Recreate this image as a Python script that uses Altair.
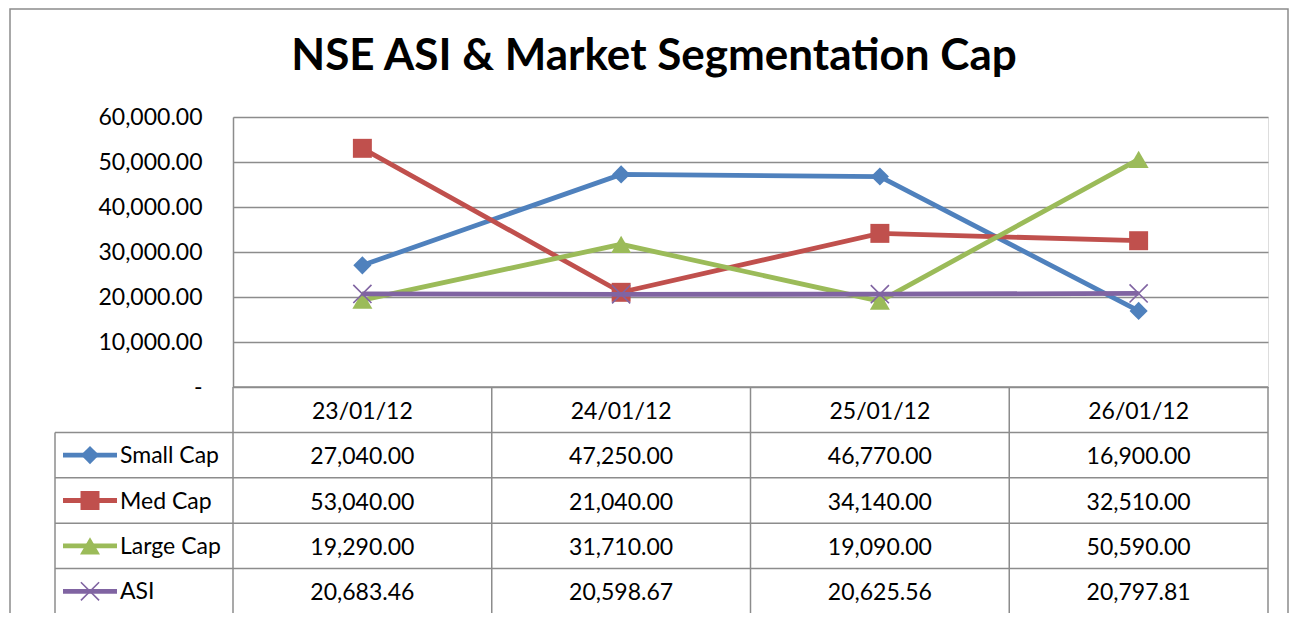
import altair as alt
import pandas as pd

# ---- data ----
dates = ["23/01/12", "24/01/12", "25/01/12", "26/01/12"]
series = ["Small Cap", "Med Cap", "Large Cap", "ASI"]
small_cap = [27040.00, 47250.00, 46770.00, 16900.00]
med_cap = [53040.00, 21040.00, 34140.00, 32510.00]
large_cap = [19290.00, 31710.00, 19090.00, 50590.00]
asi = [20683.46, 20598.67, 20625.56, 20797.81]
y_ticks = [0, 10000, 20000, 30000, 40000, 50000, 60000]
title_text = ["NSE ASI & Market Segmentation Cap"]

colors = ["#4F81BD", "#C0504D", "#9BBB59", "#8064A2"]
X_PATH = "M-1,-1L1,1M-1,1L1,-1"
shapes = ["diamond", "square", "triangle-up", X_PATH]
sizes = [330, 360, 400, 330]

W, H = 1035, 270
FONT = "Lato"
GRID = "#8c8c8c"
FS = 23
LEG_LEFT = -178

values = {"Small Cap": small_cap, "Med Cap": med_cap, "Large Cap": large_cap, "ASI": asi}

rows = []
for i, s in enumerate(series):
    for d, v in zip(dates, values[s]):
        rows.append({"date": d, "series": s, "value": v,
                     "label": f"{v:,.2f}", "pos": i + 1.5})
df = pd.DataFrame(rows)

header_df = pd.DataFrame({"date": dates, "pos": [0.5] * len(dates)})
legend_df = pd.DataFrame({"series": series, "pos": [i + 1.5 for i in range(len(series))]})

x_date = alt.Scale(type="point", domain=dates, padding=0.5)
y_val = alt.Scale(domain=[0, 60000], nice=False, zero=False)
row_scale = alt.Scale(domain=[0, 5], range=[270, 497], nice=False, zero=False)
col_scale = alt.Scale(domain=[0, 4], range=[0, W], nice=False, zero=False)

layers = []

# outer chart border
layers.append(
    alt.Chart(pd.DataFrame({"a": [0]})).mark_rect(
        filled=False, stroke=GRID, strokeWidth=1.5
    ).encode(x=alt.value(-223), x2=alt.value(1055), y=alt.value(-108), y2=alt.value(540))
)

# chart title
layers.append(
    alt.Chart(pd.DataFrame({"t": title_text})).mark_text(
        font=FONT, fontSize=44, fontWeight="bold", color="black",
        align="center", baseline="alphabetic"
    ).encode(x=alt.value(421), y=alt.value(-47), text="t:N")
)

# y axis + gridlines layer (invisible line carrying the axis)
layers.append(
    alt.Chart(df).mark_line(opacity=0).encode(
        x=alt.X("date:N", scale=x_date, axis=None),
        y=alt.Y("value:Q", scale=y_val, axis=alt.Axis(
            values=y_ticks, title=None, ticks=False, labelPadding=31,
            labelFont=FONT, labelFontSize=FS, labelColor="black",
            labelExpr="datum.value == 0 ? '-\u2007\u2007' : format(datum.value, ',.2f')",
            domainColor=GRID, domainWidth=1.5, gridColor=GRID, gridWidth=1.5,
            grid=True)),
        detail="series:N",
    )
)

# series lines + markers
for s, c, sh, sz in zip(series, colors, shapes, sizes):
    sub = df[df["series"] == s]
    base = alt.Chart(sub).encode(
        x=alt.X("date:N", scale=x_date, axis=None),
        y=alt.Y("value:Q", scale=y_val, axis=None),
    )
    layers.append(base.mark_line(color=c, strokeWidth=4.8))
    if sh == X_PATH:
        layers.append(base.mark_point(shape=sh, size=sz, filled=False, color=c,
                                      strokeWidth=1.6, opacity=1))
    else:
        layers.append(base.mark_point(shape=sh, size=sz, filled=True, color=c, opacity=1))

# data table lines
layers.append(
    alt.Chart(pd.DataFrame({"b": list(range(5)), "y0": [0] * 5, "y1": [5] * 5}))
    .mark_rule(color=GRID, strokeWidth=1.5)
    .encode(x=alt.X("b:Q", scale=col_scale, axis=None),
            y=alt.Y("y0:Q", scale=row_scale, axis=None), y2="y1:Q")
)
layers.append(
    alt.Chart(pd.DataFrame({"b": [0]})).mark_rule(color=GRID, strokeWidth=1.5)
    .encode(y=alt.Y("b:Q", scale=row_scale, axis=None), x=alt.value(0), x2=alt.value(W))
)
layers.append(
    alt.Chart(pd.DataFrame({"b": [1, 2, 3, 4, 5]})).mark_rule(color=GRID, strokeWidth=1.5)
    .encode(y=alt.Y("b:Q", scale=row_scale, axis=None), x=alt.value(LEG_LEFT), x2=alt.value(W))
)
layers.append(
    alt.Chart(pd.DataFrame({"y0": [1], "y1": [5]})).mark_rule(color=GRID, strokeWidth=1.5)
    .encode(x=alt.value(LEG_LEFT), y=alt.Y("y0:Q", scale=row_scale, axis=None), y2="y1:Q")
)

# header text
layers.append(
    alt.Chart(header_df).mark_text(font=FONT, fontSize=FS, color="black", dy=2)
    .encode(x=alt.X("date:N", scale=x_date, axis=None),
            y=alt.Y("pos:Q", scale=row_scale, axis=None), text="date:N")
)
# values text
layers.append(
    alt.Chart(df).mark_text(font=FONT, fontSize=FS, color="black", dy=2)
    .encode(x=alt.X("date:N", scale=x_date, axis=None),
            y=alt.Y("pos:Q", scale=row_scale, axis=None), text="label:N")
)

# legend keys in the table
for s, c, sh, sz in zip(series, colors, shapes, sizes):
    sub = legend_df[legend_df["series"] == s]
    lb = alt.Chart(sub).encode(y=alt.Y("pos:Q", scale=row_scale, axis=None))
    layers.append(lb.mark_rule(color=c, strokeWidth=4.8).encode(x=alt.value(-170), x2=alt.value(-116)))
    if sh == X_PATH:
        layers.append(lb.mark_point(shape=sh, size=sz, filled=False, color=c,
                                    strokeWidth=1.6, opacity=1).encode(x=alt.value(-143)))
    else:
        layers.append(lb.mark_point(shape=sh, size=sz, filled=True, color=c,
                                    opacity=1).encode(x=alt.value(-143)))
    layers.append(lb.mark_text(font=FONT, fontSize=FS, color="black", align="left", dy=1)
                  .encode(x=alt.value(-113), text="series:N"))

chart = alt.layer(*layers).resolve_scale(x="independent", y="independent").properties(
    width=W, height=H,
    autosize=alt.AutoSizeParams(type="none"),
    padding={"left": 225, "top": 109, "right": 22, "bottom": 226},
).configure_view(stroke=None).configure(background="white")

chart.save("out.html", embed_options={"renderer": "svg", "actions": False})
